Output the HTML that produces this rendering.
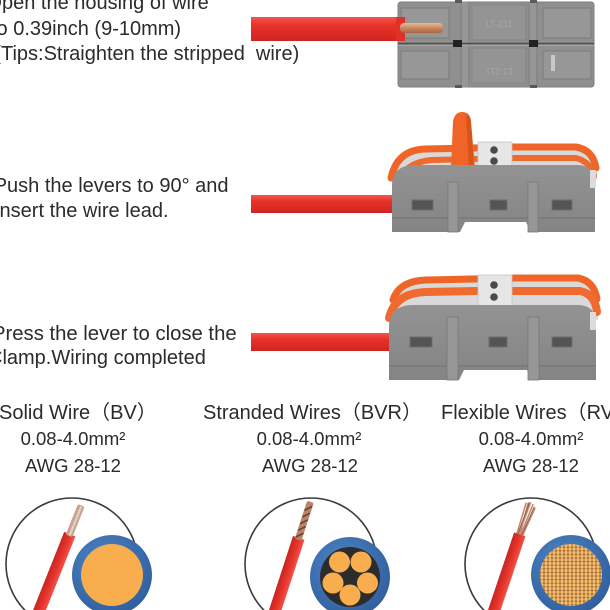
<!DOCTYPE html>
<html>
<head>
<meta charset="utf-8">
<style>
html,body{margin:0;padding:0;background:#fff;width:610px;height:610px;overflow:hidden;}
svg{display:block;}
text{font-family:"Liberation Sans","Noto Sans CJK SC",sans-serif;fill:#2b2b2b;}
</style>
</head>
<body>
<svg width="610" height="610" viewBox="0 0 610 610" xmlns="http://www.w3.org/2000/svg">
<defs>
  <linearGradient id="redV" x1="0" y1="0" x2="0" y2="1">
    <stop offset="0" stop-color="#f0574c"/>
    <stop offset="0.35" stop-color="#e8322b"/>
    <stop offset="1" stop-color="#cf2520"/>
  </linearGradient>
  <linearGradient id="redH" x1="0" y1="0" x2="1" y2="0">
    <stop offset="0" stop-color="#c92520"/>
    <stop offset="0.6" stop-color="#e8362e"/>
    <stop offset="1" stop-color="#f0554a"/>
  </linearGradient>
  <linearGradient id="copper" x1="0" y1="0" x2="0" y2="1">
    <stop offset="0" stop-color="#e9b896"/>
    <stop offset="0.5" stop-color="#c98a60"/>
    <stop offset="1" stop-color="#a8653f"/>
  </linearGradient>
  <linearGradient id="grayBody" x1="0" y1="0" x2="0" y2="1">
    <stop offset="0" stop-color="#939393"/>
    <stop offset="1" stop-color="#848484"/>
  </linearGradient>
  <radialGradient id="blue" cx="0.4" cy="0.35" r="0.7">
    <stop offset="0" stop-color="#4e85c6"/>
    <stop offset="1" stop-color="#2f5e9c"/>
  </radialGradient>
  <pattern id="mesh" width="4" height="3.6" patternUnits="userSpaceOnUse">
    <rect width="4" height="3.6" fill="#9a6a3a"/>
    <circle cx="2" cy="1.8" r="1.7" fill="#f7bd6c"/>
  </pattern>
</defs>

<!-- ============ LEFT TEXT ============ -->
<text x="-13.6" y="9" font-size="20">Open the housing of wire</text>
<text x="-9" y="35" font-size="20">to 0.39inch (9-10mm)</text>
<text x="-5.7" y="60" font-size="20">(Tips:Straighten the stripped&#160; wire)</text>

<text x="-6.3" y="192" font-size="20">Push the levers to 90° and</text>
<text x="-6" y="217" font-size="20">Insert the wire lead.</text>

<text x="-8" y="340" font-size="20.3">Press the lever to close the</text>
<text x="-12" y="364" font-size="20">Clamp.Wiring completed</text>

<!-- ============ ROW 1 : top view connector ============ -->
<rect x="251" y="17" width="154" height="24" fill="url(#redV)"/>
<rect x="398" y="2" width="196" height="85" rx="3" fill="#8f8f8f"/>
<rect x="398" y="2" width="196" height="85" rx="3" fill="none" stroke="#7c7c7c" stroke-width="1"/>
<rect x="460" y="2" width="10" height="85" fill="#969696"/>
<rect x="528" y="2" width="10" height="85" fill="#969696"/>
<line x1="461" y1="2" x2="461" y2="87" stroke="#7a7a7a" stroke-width="1"/>
<line x1="469" y1="2" x2="469" y2="87" stroke="#7a7a7a" stroke-width="1"/>
<line x1="529" y1="2" x2="529" y2="87" stroke="#7a7a7a" stroke-width="1"/>
<line x1="537" y1="2" x2="537" y2="87" stroke="#7a7a7a" stroke-width="1"/>
<rect x="472" y="5" width="54" height="35" fill="#949494" stroke="#828282" stroke-width="0.8"/>
<rect x="472" y="48" width="54" height="35" fill="#949494" stroke="#828282" stroke-width="0.8"/>
<text x="499" y="27" font-size="9" text-anchor="middle" style="fill:#a6a6a6">LT-211</text>
<text x="499" y="62" font-size="9" text-anchor="middle" transform="rotate(180 499 65)" style="fill:#a6a6a6">LT-211</text>
<rect x="401" y="8" width="48" height="30" fill="#979797" stroke="#7b7b7b" stroke-width="1"/>
<rect x="543" y="8" width="48" height="30" fill="#979797" stroke="#7b7b7b" stroke-width="1"/>
<rect x="401" y="51" width="48" height="28" fill="#979797" stroke="#7b7b7b" stroke-width="1"/>
<rect x="543" y="51" width="48" height="28" fill="#979797" stroke="#7b7b7b" stroke-width="1"/>
<rect x="551" y="55" width="4" height="16" fill="#c8c8c8"/>
<line x1="398" y1="43.5" x2="594" y2="43.5" stroke="#4f4f4f" stroke-width="1.6"/>
<line x1="398" y1="45.5" x2="594" y2="45.5" stroke="#a3a3a3" stroke-width="1"/>
<rect x="453" y="40" width="9" height="7" fill="#222"/>
<rect x="529" y="40" width="9" height="7" fill="#222"/>
<rect x="455" y="0" width="7" height="3" fill="#5a5a5a"/>
<rect x="530" y="0" width="7" height="3" fill="#5a5a5a"/>
<rect x="455" y="85" width="7" height="3" fill="#5a5a5a"/>
<rect x="530" y="85" width="7" height="3" fill="#5a5a5a"/>
<rect x="396" y="17" width="9" height="24" fill="#e23029"/>
<rect x="400" y="23" width="43" height="10" rx="4" fill="url(#copper)"/>

<!-- ============ ROW 2 : side view, lever up ============ -->
<rect x="251" y="195" width="146" height="18" fill="url(#redV)"/>
<path d="M392,185 Q394,150 425,146 L478,144 L478,168 L392,190 Z" fill="#d9d9d9"/>
<path d="M512,144 L578,144 Q597,148 597,180 L512,170 Z" fill="#d9d9d9"/>
<path d="M391,178 Q397,150 425,149 L476,148" fill="none" stroke="#ef6527" stroke-width="7" stroke-linecap="round"/>
<path d="M397,185 Q404,162 432,160 L476,159" fill="none" stroke="#ee6a2e" stroke-width="6" stroke-linecap="round"/>
<path d="M400,190 Q408,172 435,170 L476,169" fill="none" stroke="#6d6d6d" stroke-width="2"/>
<path d="M513,147 L576,147 Q593,150 596,168" fill="none" stroke="#ef6527" stroke-width="7" stroke-linecap="round"/>
<path d="M513,158 L576,158 Q591,162 594,176" fill="none" stroke="#ee6a2e" stroke-width="6" stroke-linecap="round"/>
<rect x="478" y="142" width="34" height="25" fill="#e6e6e6" stroke="#c4c4c4" stroke-width="0.8"/>
<circle cx="494" cy="150" r="3.8" fill="#4a4a4a"/>
<circle cx="494" cy="161" r="3.8" fill="#4a4a4a"/>
<path d="M451,168 L453,121 Q455,112 462,112 Q470,112 471,121 L475,168 Z" fill="#ef6527"/>
<path d="M466,114 Q471,116 471,124 L474,168 L469,168 Z" fill="#d9531c"/>
<path d="M392,232 L392,186 Q392,165 415,165 L577,165 Q595,165 595,184 L595,232 L531,232 L526,222 L465,222 L460,232 Z" fill="url(#grayBody)"/>
<line x1="392" y1="218" x2="595" y2="218" stroke="#727272" stroke-width="1"/>
<rect x="448" y="182" width="10" height="50" fill="#979797" stroke="#777" stroke-width="0.8"/>
<rect x="528" y="182" width="10" height="50" fill="#979797" stroke="#777" stroke-width="0.8"/>
<rect x="412" y="200" width="21" height="10" fill="#545454" stroke="#6e6e6e" stroke-width="1"/>
<rect x="490" y="200" width="17" height="10" fill="#545454" stroke="#6e6e6e" stroke-width="1"/>
<rect x="552" y="200" width="20" height="10" fill="#545454" stroke="#6e6e6e" stroke-width="1"/>
<rect x="590" y="170" width="6" height="18" fill="#dcdcdc"/>

<!-- ============ ROW 3 : side view, closed ============ -->
<rect x="251" y="333" width="142" height="18" fill="url(#redV)"/>
<path d="M389,322 Q392,280 425,277 L478,275 L478,305 L389,328 Z" fill="#d9d9d9"/>
<path d="M512,275 L580,275 Q598,280 598,320 L512,305 Z" fill="#d9d9d9"/>
<path d="M393,300 Q399,281 426,280 L476,279" fill="none" stroke="#ef6527" stroke-width="7" stroke-linecap="round"/>
<path d="M389,318 Q395,293 426,292 L476,291" fill="none" stroke="#ee6a2e" stroke-width="8" stroke-linecap="round"/>
<path d="M513,278 L578,278 Q594,281 597,299" fill="none" stroke="#ef6527" stroke-width="7" stroke-linecap="round"/>
<path d="M513,291 L580,291 Q595,294 597,312" fill="none" stroke="#ee6a2e" stroke-width="8" stroke-linecap="round"/>
<rect x="478" y="275" width="34" height="31" fill="#e6e6e6" stroke="#c4c4c4" stroke-width="0.8"/>
<circle cx="494" cy="285" r="3.8" fill="#4a4a4a"/>
<circle cx="494" cy="297" r="3.8" fill="#4a4a4a"/>
<path d="M389,380 L389,328 Q389,305 413,305 L578,305 Q596,305 596,325 L596,380 L532,380 L527,370 L464,370 L459,380 Z" fill="url(#grayBody)"/>
<line x1="389" y1="366" x2="596" y2="366" stroke="#727272" stroke-width="1"/>
<rect x="447" y="317" width="11" height="63" fill="#979797" stroke="#777" stroke-width="0.8"/>
<rect x="528" y="317" width="11" height="63" fill="#979797" stroke="#777" stroke-width="0.8"/>
<rect x="410" y="337" width="22" height="10" fill="#545454" stroke="#6e6e6e" stroke-width="1"/>
<rect x="489" y="337" width="18" height="10" fill="#545454" stroke="#6e6e6e" stroke-width="1"/>
<rect x="552" y="337" width="20" height="10" fill="#545454" stroke="#6e6e6e" stroke-width="1"/>
<rect x="590" y="312" width="6" height="18" fill="#dcdcdc"/>

<!-- ============ BOTTOM HEADINGS ============ -->
<text x="-1" y="419" font-size="20">Solid Wire（BV）</text>
<text x="203" y="419" font-size="20">Stranded Wires（BVR）</text>
<text x="441" y="419" font-size="20">Flexible Wires（RV）</text>

<text x="73" y="445" font-size="18.5" text-anchor="middle">0.08-4.0mm²</text>
<text x="309" y="445" font-size="18.5" text-anchor="middle">0.08-4.0mm²</text>
<text x="531" y="445" font-size="18.5" text-anchor="middle">0.08-4.0mm²</text>

<text x="73" y="472" font-size="18.5" text-anchor="middle">AWG 28-12</text>
<text x="310" y="472" font-size="18.5" text-anchor="middle">AWG 28-12</text>
<text x="531" y="472" font-size="18.5" text-anchor="middle">AWG 28-12</text>

<!-- ============ CIRCLE 1 : solid ============ -->
<circle cx="72" cy="564" r="66" fill="#fff" stroke="#3a3a3a" stroke-width="1.6"/>
<g transform="translate(38,614) rotate(21.7)">
  <rect x="-6" y="-86" width="12" height="86" fill="url(#redH)"/>
  <rect x="-3.6" y="-117" width="7.2" height="33" rx="2" fill="#c7a493"/>
  <rect x="-0.6" y="-116" width="2" height="31" fill="#e6d2c6"/>
</g>
<circle cx="112" cy="575" r="40" fill="url(#blue)"/>
<circle cx="112" cy="575" r="31" fill="#f8ad4f"/>

<!-- ============ CIRCLE 2 : stranded ============ -->
<circle cx="311" cy="564" r="66" fill="#fff" stroke="#3a3a3a" stroke-width="1.6"/>
<g transform="translate(274,614) rotate(18)">
  <rect x="-6" y="-80" width="12" height="80" fill="url(#redH)"/>
  <rect x="-3.5" y="-118" width="7" height="40" rx="2" fill="#b98468"/>
  <path d="M-3,-80 L3,-86 M-3,-87 L3,-93 M-3,-94 L3,-100 M-3,-101 L3,-107 M-3,-108 L3,-114" stroke="#6a4332" stroke-width="1.6"/>
</g>
<circle cx="350" cy="577" r="40" fill="url(#blue)"/>
<circle cx="350" cy="577" r="30" fill="#2c2c2c"/>
<circle cx="350" cy="595" r="10.5" fill="#f8ad4f"/>
<circle cx="333" cy="583" r="10.5" fill="#f8ad4f"/>
<circle cx="339.5" cy="562" r="10.5" fill="#f8ad4f"/>
<circle cx="361" cy="562" r="10.5" fill="#f8ad4f"/>
<circle cx="367.5" cy="583" r="10.5" fill="#f8ad4f"/>

<!-- ============ CIRCLE 3 : flexible ============ -->
<circle cx="531" cy="564" r="66" fill="#fff" stroke="#3a3a3a" stroke-width="1.6"/>
<g transform="translate(493,614) rotate(18.6)">
  <rect x="-6" y="-84" width="12" height="84" fill="url(#redH)"/>
  <path d="M-3,-84 L-4,-116 M-1,-84 L0,-118 M1,-84 L3,-117 M3,-84 L6,-114 M0,-84 L-2,-117" stroke="#c08a70" stroke-width="1.6" fill="none"/>
  <path d="M-2,-84 L-1,-117 M2,-84 L5,-115" stroke="#8a5a42" stroke-width="0.9" fill="none"/>
</g>
<circle cx="571" cy="575" r="40" fill="url(#blue)"/>
<circle cx="571" cy="575" r="31" fill="url(#mesh)"/>
</svg>
</body>
</html>
